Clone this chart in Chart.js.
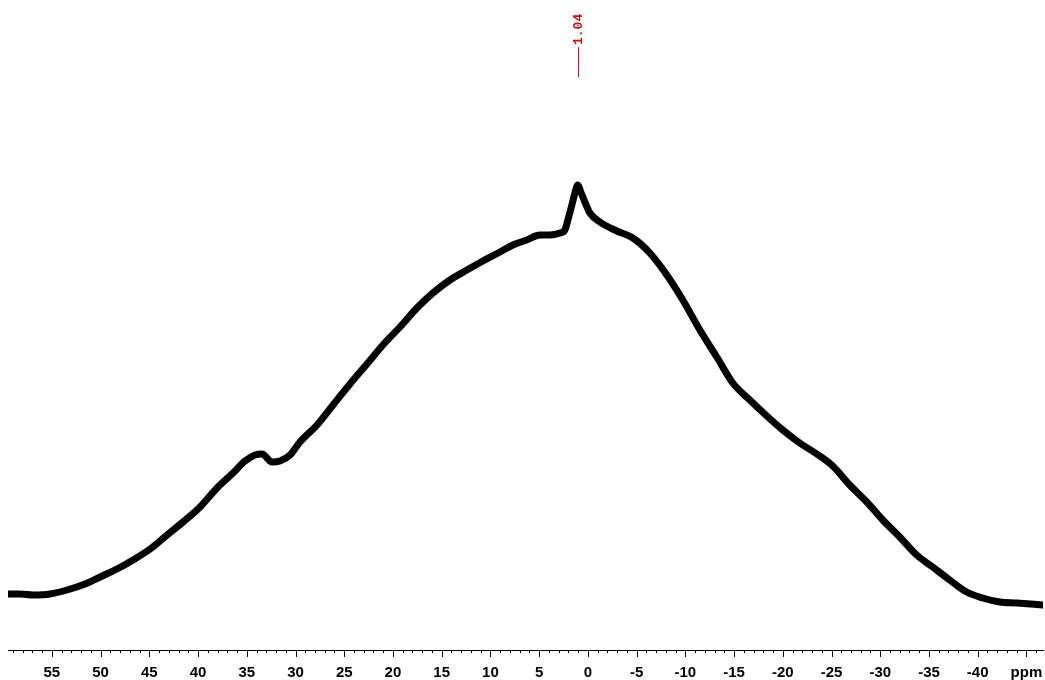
<!DOCTYPE html>
<html>
<head>
<meta charset="utf-8">
<script src="https://cdn.jsdelivr.net/npm/chart.js@4.4.1/dist/chart.umd.min.js"></script>
<style>
  body { margin: 0; background: #fff; }
  #wrap { width: 1045px; height: 680px; }
</style>
</head>
<body>
<div id="wrap"><canvas id="spec" width="1045" height="680"></canvas></div>
<script>
// chemical shift (ppm) and intensity (arbitrary units)
const shifts = [
  59.49, 58.26, 56.92, 55.18, 53.44, 51.59, 50.05, 48.31, 46.67, 44.92,
  43.18, 41.54, 39.79, 38.05, 36.41, 35.18, 34.15, 33.44, 32.41, 31.59,
  30.56, 29.54, 27.79, 26.15, 24.41, 22.67, 21.03, 19.28, 17.54, 15.90,
  14.15, 12.41, 10.77, 9.03, 7.69, 6.26, 4.92, 3.90, 2.87, 2.36,
  2.05, 1.64, 1.33, 1.03, 0.72, 0.31, -0.21, -1.23, -2.97, -4.62,
  -6.36, -8.10, -9.74, -11.49, -13.23, -14.87, -16.62, -18.36, -20.00, -21.74,
  -23.49, -25.13, -26.87, -28.62, -30.26, -32.00, -33.74, -35.38, -37.13, -38.87,
  -40.51, -42.26, -44.00, -46.67
];
const intensity = [
  56, 56, 55, 56, 60, 66, 73, 81, 90, 101,
  115, 128, 143, 162, 177, 189, 195, 196, 188, 189,
  195, 208, 225, 245, 266, 286, 305, 323, 342, 357,
  370, 380, 389, 398, 405, 410, 415, 415, 417, 420,
  430, 445, 457, 465, 458, 448, 437, 428, 419, 412,
  397, 375, 350, 320, 293, 267, 250, 234, 220, 207,
  196, 184, 165, 148, 130, 113, 95, 83, 70, 58,
  52, 48, 47, 45
];
const peakLabels = [1.04];
const axisRange = { low: -46.7, high: 59.5 };

const points = shifts.map((s, i) => ({ x: s, y: intensity[i] }));

// minor ticks every 1 ppm, longer ones every 5 ppm, pointing down from the axis line
const ppmTicks = {
  id: 'ppmTicks',
  afterDraw(chart) {
    const sc = chart.scales.x;
    const ctx = chart.ctx;
    ctx.save();
    ctx.strokeStyle = '#000';
    ctx.lineWidth = 1;
    ctx.beginPath();
    for (let v = Math.ceil(sc.min); v <= Math.floor(sc.max); v++) {
      const px = Math.round(sc.getPixelForValue(v)) + 0.5;
      const len = v % 5 === 0 ? 7 : 3;
      ctx.moveTo(px, sc.top);
      ctx.lineTo(px, sc.top + len);
    }
    ctx.stroke();
    ctx.restore();
  }
};

// red peak-pick annotation above the plot
const peakPick = {
  id: 'peakPick',
  afterDraw(chart) {
    const sc = chart.scales.x;
    const ctx = chart.ctx;
    ctx.save();
    ctx.strokeStyle = '#cc1111';
    ctx.fillStyle = '#cc1111';
    ctx.lineWidth = 1;
    peakLabels.forEach(p => {
      const px = Math.round(sc.getPixelForValue(p)) + 0.5;
      ctx.beginPath();
      ctx.moveTo(px, 47);
      ctx.lineTo(px, 77);
      ctx.stroke();
      ctx.save();
      ctx.translate(px, 45);
      ctx.rotate(-Math.PI / 2);
      ctx.font = 'bold 13px "Liberation Mono", monospace';
      ctx.textAlign = 'left';
      ctx.textBaseline = 'middle';
      ctx.fillText(p.toFixed(2), 0, 0);
      ctx.restore();
    });
    ctx.restore();
  }
};

new Chart(document.getElementById('spec').getContext('2d'), {
  type: 'line',
  data: {
    datasets: [{
      data: points,
      borderColor: '#000',
      borderWidth: 7,
      borderJoinStyle: 'round',
      borderCapStyle: 'round',
      pointRadius: 0,
      cubicInterpolationMode: 'monotone',
      fill: false,
    }],
  },
  options: {
    responsive: false,
    animation: false,
    layout: { padding: { left: 8, right: 2, top: 0, bottom: 0 } },
    plugins: {
      legend: { display: false },
      tooltip: { enabled: false },
    },
    scales: {
      x: {
        type: 'linear',
        reverse: true,
        min: axisRange.low,
        max: axisRange.high,
        afterFit: (scale) => {
          scale.height = 30;
          scale.paddingLeft = 0;
          scale.paddingRight = 0;
        },
        border: { display: true, color: '#000', width: 1 },
        grid: { display: false },
        ticks: {
          stepSize: 1,
          autoSkip: false,
          maxRotation: 0,
          padding: 6,
          color: '#000',
          font: { family: '"Liberation Sans", Arial, sans-serif', size: 15, weight: 'bold' },
          callback: (v) => {
            const r = Math.round(v);
            if (Math.abs(v - r) > 1e-6 || r % 5 !== 0) return '';
            return r === -45 ? 'ppm' : String(r);
          },
        },
      },
      y: {
        display: false,
        min: 0,
        max: 650,
      },
    },
  },
  plugins: [ppmTicks, peakPick],
});
</script>
</body>
</html>
